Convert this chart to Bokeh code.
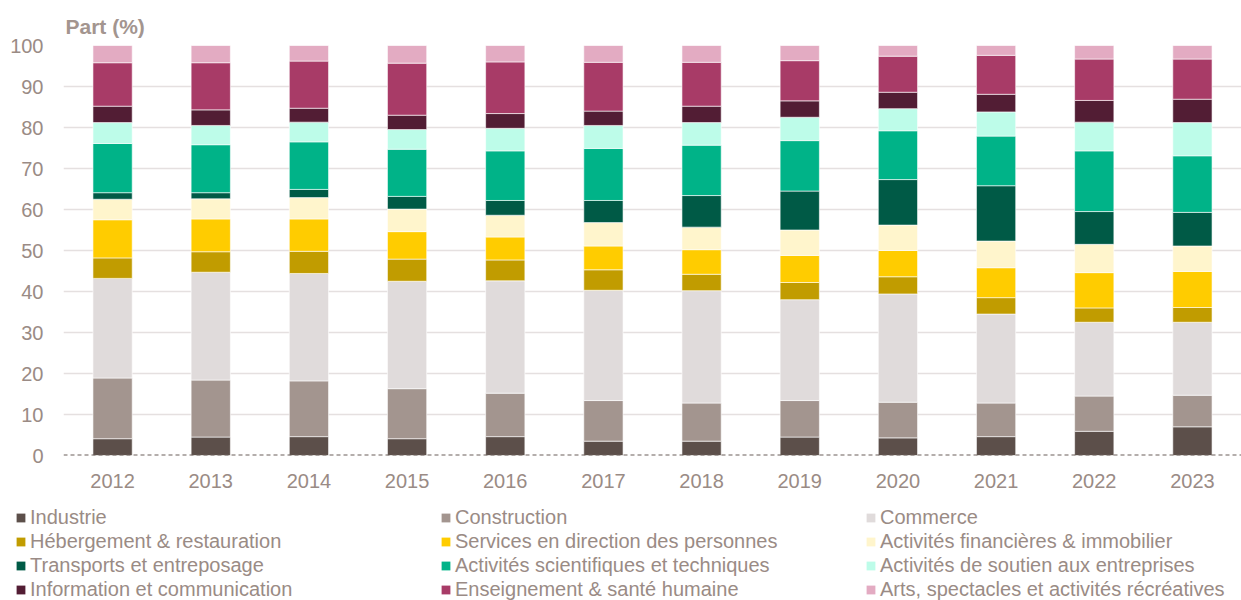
from bokeh.plotting import figure
from bokeh.models import Legend, LegendItem, Span, Range1d, SingleIntervalTicker
from bokeh.embed import file_html
from bokeh.resources import INLINE

years = ["2012", "2013", "2014", "2015", "2016", "2017", "2018", "2019", "2020", "2021", "2022", "2023"]

industrie = [4.1, 4.5, 4.6, 4.1, 4.6, 3.5, 3.5, 4.5, 4.3, 4.6, 5.9, 7.0]
construction = [14.8, 13.9, 13.6, 12.2, 10.6, 9.9, 9.3, 8.9, 8.7, 8.2, 8.6, 7.7]
commerce = [24.3, 26.3, 26.2, 26.2, 27.4, 26.9, 27.4, 24.6, 26.4, 21.7, 18.0, 17.8]
hebergement = [5.0, 5.0, 5.4, 5.4, 5.1, 5.0, 4.0, 4.2, 4.2, 4.0, 3.5, 3.6]
services = [9.3, 8.0, 7.9, 6.7, 5.6, 5.8, 6.0, 6.6, 6.4, 7.3, 8.6, 8.8]
financieres = [5.0, 4.9, 5.2, 5.5, 5.3, 5.7, 5.5, 6.2, 6.2, 6.5, 6.9, 6.2]
transports = [1.6, 1.5, 2.0, 3.1, 3.6, 5.4, 7.7, 9.5, 11.1, 13.5, 8.0, 8.2]
scientifiques = [12.0, 11.7, 11.6, 11.5, 12.1, 12.7, 12.3, 12.3, 11.9, 12.1, 14.8, 13.8]
soutien = [5.1, 4.7, 4.8, 4.8, 5.5, 5.6, 5.5, 5.7, 5.4, 5.9, 7.0, 8.1]
information = [4.0, 3.8, 3.4, 3.5, 3.6, 3.5, 4.0, 4.0, 4.0, 4.3, 5.3, 5.7]
enseignement = [10.6, 11.5, 11.5, 12.7, 12.6, 11.9, 10.7, 9.8, 8.8, 9.5, 10.1, 9.8]
arts = [4.2, 4.2, 3.8, 4.3, 4.0, 4.1, 4.1, 3.7, 2.6, 2.4, 3.3, 3.3]

series_names = [
    "Industrie", "Construction", "Commerce",
    "Hébergement & restauration", "Services en direction des personnes", "Activités financières & immobilier",
    "Transports et entreposage", "Activités scientifiques et techniques", "Activités de soutien aux entreprises",
    "Information et communication", "Enseignement & santé humaine", "Arts, spectacles et activités récréatives",
]
series_values = [industrie, construction, commerce, hebergement, services, financieres,
                 transports, scientifiques, soutien, information, enseignement, arts]
colors = ["#5c4f4a", "#a3958f", "#e0dbdb", "#c19c00", "#ffcc00", "#fff5cc",
          "#005a46", "#00b388", "#bdfce9", "#521d34", "#a83b67", "#e3abc2"]

keys = ["s%d" % i for i in range(len(series_names))]
data = {"years": years}
for k, v in zip(keys, series_values):
    data[k] = v

FONT = "Liberation Sans"
TXT = "#9a8b85"

p = figure(x_range=years, y_range=Range1d(0, 100), width=1241, height=503,
           output_backend="svg", toolbar_location=None,
           min_border_left=63, min_border_right=0, min_border_top=45, min_border_bottom=48,
           title="Part (%)")
p.outline_line_color = None
p.title.text_font = FONT
p.title.text_font_size = "21px"
p.title.text_font_style = "bold"
p.title.text_color = "#a3958f"
p.title.align = "left"
p.title.offset = 2
p.title.standoff = 16

renderers = p.vbar_stack(keys, x="years", width=0.4, color=colors, source=data,
                         line_color="white", line_width=0.6)

p.xgrid.grid_line_color = None
p.ygrid.grid_line_color = "#e5e0e0"
p.ygrid.grid_line_width = 1.5
p.yaxis.ticker = SingleIntervalTicker(interval=10)
for ax in (p.xaxis, p.yaxis):
    ax.axis_line_color = None
    ax.major_tick_line_color = None
    ax.minor_tick_line_color = None
    ax.major_label_text_font = FONT
    ax.major_label_text_font_size = "20px"
    ax.major_label_text_color = TXT
p.yaxis.major_label_standoff = 14
p.xaxis.major_label_standoff = 12

zero = Span(location=0, dimension="width", line_color="#6b5f5a", line_dash="4 3", line_width=2)
p.add_layout(zero)

# separate strip for the legend, below the chart (separate root: no border alignment)
lg = figure(width=1241, height=97, output_backend="svg", toolbar_location=None,
            x_range=Range1d(0, 1), y_range=Range1d(0, 1),
            min_border_left=15, min_border_right=0, min_border_top=3, min_border_bottom=0)
lg.outline_line_color = None
lg.axis.visible = False
lg.grid.visible = False
proxies = [lg.vbar(x=[-10], top=[-10], width=0.1, fill_color=c, line_color=None) for c in colors]

# legend filled column by column: reorder so rows read as in the reference
order = [0, 3, 6, 9, 1, 4, 7, 10, 2, 5, 8, 11]
items = [LegendItem(label=series_names[i], renderers=[proxies[i]]) for i in order]
legend = Legend(items=items, ncols=3, location="top_left",
                label_text_font=FONT, label_text_font_size="20px", label_text_color=TXT,
                glyph_width=11, glyph_height=11, label_width=409, label_standoff=4,
                spacing=1, padding=0, margin=0, border_line_color=None,
                background_fill_alpha=0)
lg.add_layout(legend, "center")

html = file_html([p, lg], INLINE)
html = html.replace("<body>", '<body style="margin:0">')
open("out.html", "w").write(html)
